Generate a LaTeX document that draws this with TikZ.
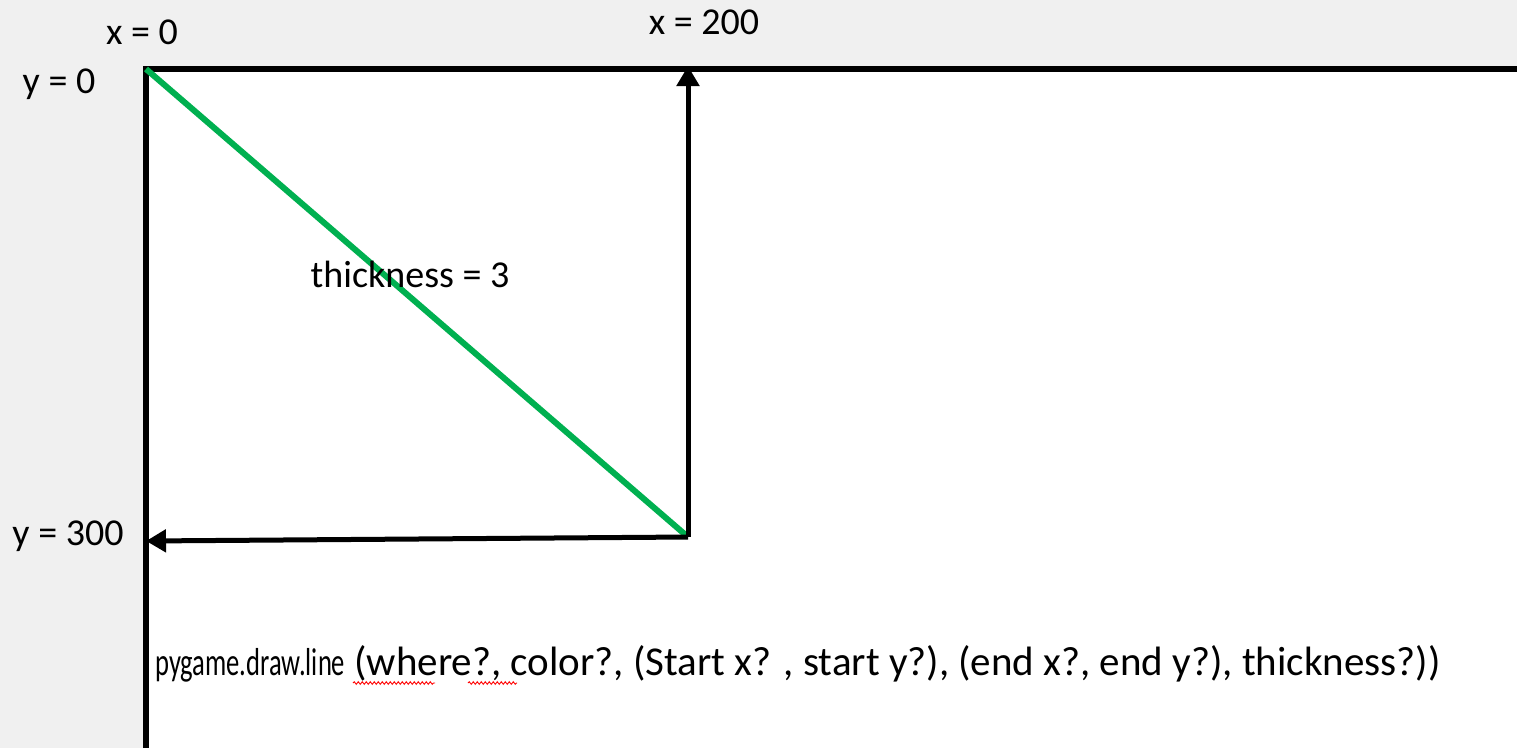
\documentclass[tikz,border=0pt]{standalone}
\usepackage{fontspec}
\setmainfont{Carlito}
\usetikzlibrary{arrows.meta,decorations.pathmorphing}
\definecolor{bggray}{HTML}{F0F0F0}
\definecolor{linegreen}{HTML}{00B050}
\begin{document}
\begin{tikzpicture}[x=1pt,y=-1pt,
  lbl/.style={font=\fontsize{38}{44}\selectfont, inner sep=0pt, text=black},
  code/.style={font=\fontsize{41}{46}\selectfont, inner sep=0pt, anchor=base west},
  axis/.style={line width=6pt, black},
  arr/.style={line width=5pt, black, -{Triangle[length=20pt,width=22pt]}},
  squiggle/.style={red, line width=0.9pt, decorate, decoration={snake, amplitude=1.3pt, segment length=4pt}}]
\fill[bggray] (0,0) rectangle (1517,748);
\useasboundingbox (0,0) rectangle (1517,748);
\fill[white] (145,68) rectangle (1517,748);
\coordinate (o) at (146,69);
\coordinate (tr) at (1517,69);
\coordinate (bl) at (146,748);
\coordinate (p) at (688,537);
\coordinate (top) at (688,66);
\coordinate (left) at (146,541);
\draw[axis, line join=miter] (tr) -- (o) -- (bl);
\draw[linegreen, line width=6pt] (o) -- (p);
\draw[arr] (p) -- (top);
\draw[arr] (p) -- (left);
\node[lbl] (x0) at (142,32) {x = 0};
\node[lbl] (x200) at (704,22) {x = 200};
\node[lbl] (y0) at (59,84) {y = 0};
\node[lbl] (y300) at (68,536) {y = 300};
\node[lbl] (thick) at (410,274) {thickness = 3};
\node[code] (fn) at (155,675) {{\fontsize{39}{44}\selectfont\resizebox{190pt}{\height}{pygame.draw.line}} (where?, color?, (Start x? , start y?), (end x?, end y?), thickness?))};
\draw[squiggle] (353,683) -- (435,683);
\draw[squiggle] (468,683) -- (517,683);
\end{tikzpicture}
\end{document}
